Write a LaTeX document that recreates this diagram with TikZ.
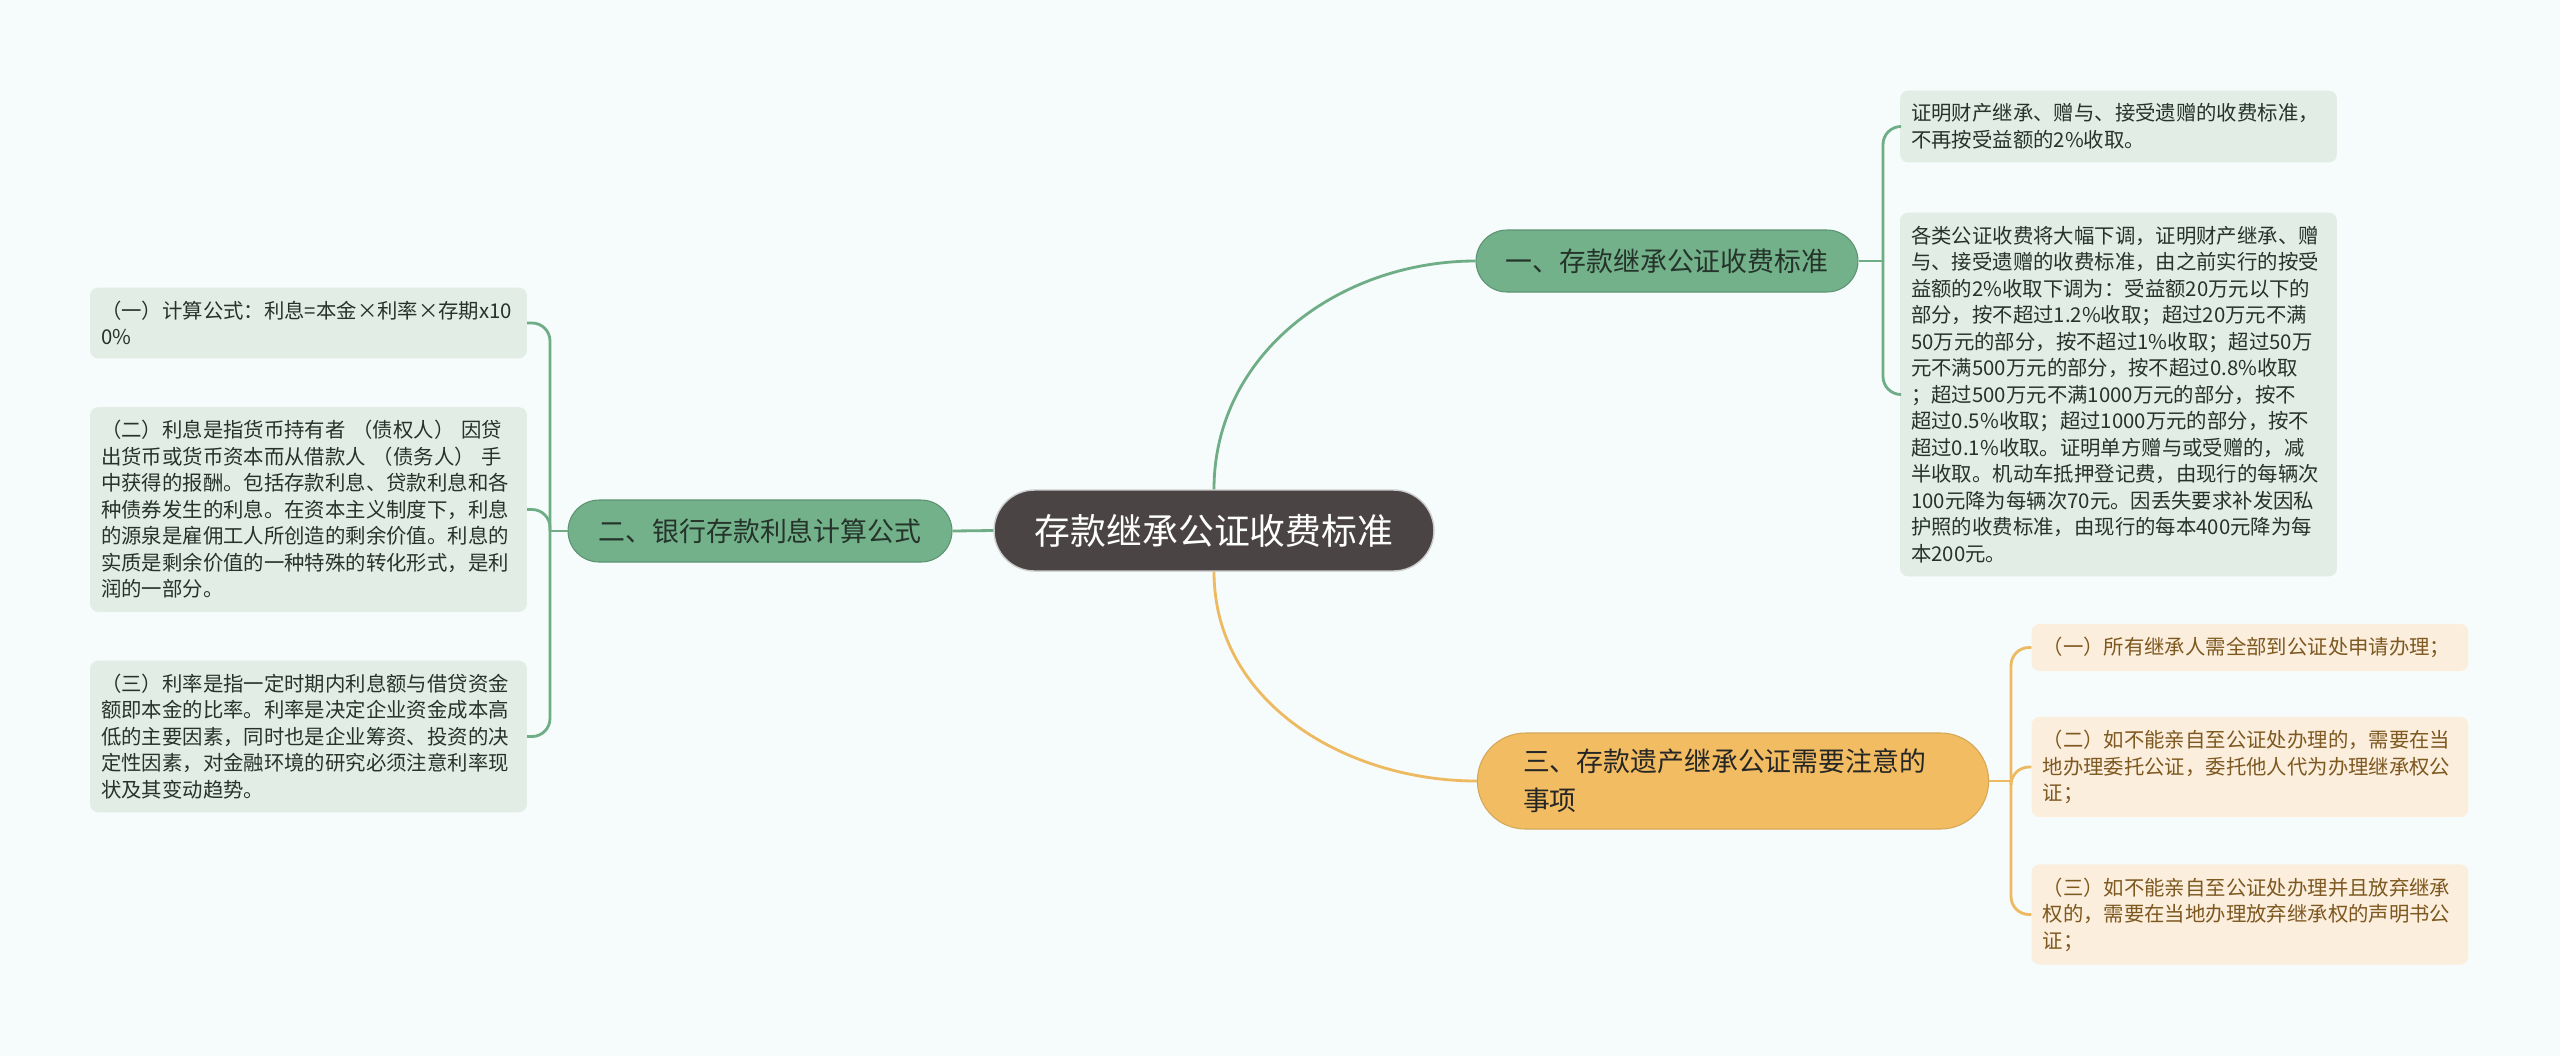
\documentclass[tikz,border=0pt]{standalone}
\usepackage{fontspec}
\setmainfont{Noto Sans CJK SC}
\definecolor{bgcol}{HTML}{F6FBFB}
\definecolor{rootfill}{HTML}{4A4544}
\definecolor{gfill}{HTML}{72B18A}
\definecolor{gline}{HTML}{6EAD86}
\definecolor{gleaffill}{HTML}{E2EEE5}
\definecolor{gtext}{HTML}{25332A}
\definecolor{ofill}{HTML}{F1BC62}
\definecolor{oline}{HTML}{EDBA62}
\definecolor{oleaffill}{HTML}{FCEEDC}
\definecolor{otext}{HTML}{7D5820}
\tikzset{
	rootbox/.style={fill=rootfill,draw=white!80!black,line width=0.8pt,text=white,
		font=\fontsize{20.4}{24}\selectfont,minimum width=8.8cm,minimum height=1.62cm,
		rounded corners=0.81cm,inner sep=0pt},
	gbranch/.style={fill=gfill,draw=gline!85!black,line width=0.6pt,text=gtext,
		font=\fontsize{15.3}{22}\selectfont,minimum width=7.64cm,minimum height=1.24cm,
		rounded corners=0.62cm,inner sep=0pt},
	obranch/.style={fill=ofill,draw=oline!90!black,line width=0.6pt,text=black!85,
		font=\fontsize{15.3}{22}\selectfont,text width=239pt,align=left,inner xsep=26pt,
		minimum height=1.92cm,rounded corners=0.96cm},
	gleaf/.style={fill=gleaffill,text=gtext,font=\fontsize{11.6}{15.1}\selectfont,
		text width=236pt,align=left,inner xsep=6.3pt,inner ysep=7.5pt,rounded corners=0.16cm},
	oleaf/.style={gleaf,fill=oleaffill,text=otext},
	glink/.style={draw=gline,line width=1.6pt},
	olink/.style={draw=oline,line width=1.6pt}
}
\begin{document}
\begin{tikzpicture}[x=0.02cm,y=-0.02cm]
	\fill[bgcol] (0,0) rectangle (2560,1056);
	\useasboundingbox (0,0) rectangle (2560,1056);
	
	% centre and main branches
	\node[rootbox] (root) at (1214,530.5) {存款继承公证收费标准};
	\node[gbranch] (fee) at (1667,261) {一、存款继承公证收费标准};
	\node[gbranch,minimum width=7.68cm] (rate) at (760,531) {二、银行存款利息计算公式};
	\node[obranch] (note) at (1733,781) {三、存款遗产继承公证需要注意的\\事项};
	
	% fee leaves
	\node[gleaf] (feea) at (2118.5,126.5) {证明财产继承、赠与、接受遗赠的收费标准，\\不再按受益额的2\%收取。};
	\node[gleaf] (feeb) at (2118.5,394.5) {各类公证收费将大幅下调，证明财产继承、赠\\与、接受遗赠的收费标准，由之前实行的按受\\益额的2\%收取下调为：受益额20万元以下的\\部分，按不超过1.2\%收取；超过20万元不满\\50万元的部分，按不超过1\%收取；超过50万\\元不满500万元的部分，按不超过0.8\%收取\\；超过500万元不满1000万元的部分，按不\\超过0.5\%收取；超过1000万元的部分，按不\\超过0.1\%收取。证明单方赠与或受赠的，减\\半收取。机动车抵押登记费，由现行的每辆次\\100元降为每辆次70元。因丢失要求补发因私\\护照的收费标准，由现行的每本400元降为每\\本200元。};
	
	% rate leaves
	\node[gleaf] (ratea) at (308.5,323) {（一）计算公式：利息=本金×利率×存期x10\\0\%};
	\node[gleaf] (rateb) at (308.5,509.5) {（二）利息是指货币持有者 （债权人） 因贷\\出货币或货币资本而从借款人 （债务人） 手\\中获得的报酬。包括存款利息、贷款利息和各\\种债券发生的利息。在资本主义制度下，利息\\的源泉是雇佣工人所创造的剩余价值。利息的\\实质是剩余价值的一种特殊的转化形式，是利\\润的一部分。};
	\node[gleaf] (ratec) at (308.5,736.5) {（三）利率是指一定时期内利息额与借贷资金\\额即本金的比率。利率是决定企业资金成本高\\低的主要因素，同时也是企业筹资、投资的决\\定性因素，对金融环境的研究必须注意利率现\\状及其变动趋势。};
	
	% note leaves
	\node[oleaf] (notea) at (2250,647.5) {（一）所有继承人需全部到公证处申请办理；};
	\node[oleaf] (noteb) at (2250,767) {（二）如不能亲自至公证处办理的，需要在当\\地办理委托公证，委托他人代为办理继承权公\\证；};
	\node[oleaf] (notec) at (2250,914.5) {（三）如不能亲自至公证处办理并且放弃继承\\权的，需要在当地办理放弃继承权的声明书公\\证；};
	
	% links
	\draw[glink] (root.north) to[out=90,in=180] (fee.west);
	\draw[olink] (root.south) to[out=-90,in=180] (note.west);
	\draw[glink] (root.west) -- (rate.east);
	
	\coordinate (feej) at (1883,261);
	\coordinate (ratej) at (550,531);
	\coordinate (notej) at (2011,781);
	\draw[glink] (fee.east) -- (feej);
	\draw[glink] (rate.west) -- (ratej);
	\draw[olink] (note.east) -- (notej);
	\foreach \n in {feea,feeb} \draw[glink,rounded corners=0.36cm] (feej) |- (\n.west);
	\foreach \n in {ratea,rateb,ratec} \draw[glink,rounded corners=0.36cm] (ratej) |- (\n.east);
	\foreach \n in {notea,noteb,notec} \draw[olink,rounded corners=0.36cm] (notej) |- (\n.west);
\end{tikzpicture}
\end{document}
